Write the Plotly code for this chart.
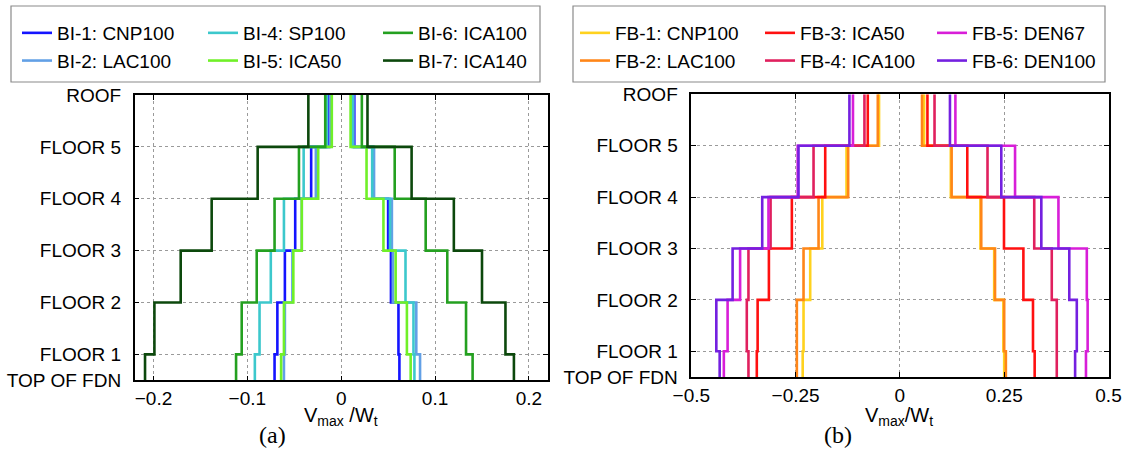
import plotly.graph_objects as go

W, H = 1126, 473

# ---------------- data ----------------
levels = [0, 0.5, 1.5, 2.5, 3.5, 4.5, 5.5]
level_labels = ["TOP OF FDN", "FLOOR 1", "FLOOR 2", "FLOOR 3", "FLOOR 4", "FLOOR 5", "ROOF"]

# story values, bottom (FDN-F1) to top (F5-ROOF)
bi_names = ["BI-1: CNP100", "BI-2: LAC100", "BI-4: SP100", "BI-5: ICA50", "BI-6: ICA100", "BI-7: ICA140"]
bi_colors = ["#1414ff", "#62a0e6", "#3cc8cc", "#70f028", "#24a020", "#0c480c"]
bi_neg = [
    [-0.071, -0.068, -0.060, -0.049, -0.032, -0.013],
    [-0.061, -0.060, -0.052, -0.042, -0.027, -0.012],
    [-0.092, -0.087, -0.075, -0.061, -0.040, -0.0155],
    [-0.064, -0.061, -0.051, -0.042, -0.0245, -0.010],
    [-0.112, -0.106, -0.090, -0.071, -0.045, -0.017],
    [-0.209, -0.199, -0.171, -0.138, -0.089, -0.035],
]
bi_pos = [
    [0.062, 0.061, 0.053, 0.050, 0.034, 0.014],
    [0.084, 0.080, 0.055, 0.054, 0.035, 0.013],
    [0.078, 0.077, 0.0685, 0.052, 0.033, 0.012],
    [0.074, 0.070, 0.058, 0.045, 0.027, 0.010],
    [0.140, 0.133, 0.113, 0.090, 0.057, 0.022],
    [0.184, 0.175, 0.150, 0.120, 0.075, 0.028],
]

fb_names = ["FB-1: CNP100", "FB-2: LAC100", "FB-3: ICA50", "FB-4: ICA100", "FB-5: DEN67", "FB-6: DEN100"]
fb_colors = ["#ffd21e", "#ff8618", "#ff1010", "#e0205e", "#d81ed8", "#7420e0"]
fb_neg = [
    [-0.233, -0.231, -0.215, -0.186, -0.128, -0.050],
    [-0.247, -0.247, -0.231, -0.195, -0.124, -0.053],
    [-0.343, -0.341, -0.314, -0.259, -0.179, -0.077],
    [-0.363, -0.367, -0.363, -0.310, -0.207, -0.085],
    [-0.422, -0.413, -0.383, -0.315, -0.245, -0.1125],
    [-0.432, -0.440, -0.401, -0.330, -0.243, -0.121],
]
fb_pos = [
    [0.250, 0.248, 0.226, 0.193, 0.122, 0.058],
    [0.254, 0.250, 0.228, 0.195, 0.124, 0.053],
    [0.323, 0.319, 0.296, 0.2495, 0.1615, 0.066],
    [0.376, 0.376, 0.364, 0.322, 0.210, 0.083],
    [0.446, 0.450, 0.448, 0.380, 0.276, 0.133],
    [0.420, 0.424, 0.406, 0.339, 0.243, 0.120],
]

a_ticks = [-0.2, -0.1, 0, 0.1, 0.2]
a_ticktext = ["\u22120.2", "\u22120.1", "0", "0.1", "0.2"]
b_ticks = [-0.5, -0.25, 0, 0.25, 0.5]
b_ticktext = ["\u22120.5", "\u22120.25", "0", "0.25", "0.5"]


def step_path(vals):
    xs, ys = [], []
    for i, v in enumerate(vals):
        xs += [v, v]
        ys += [levels[i], levels[i + 1]]
    return xs, ys


def profile(neg, pos):
    x1, y1 = step_path(neg)
    x2, y2 = step_path(pos)
    return x1 + [None] + x2, y1 + [None] + y2


FONT = "Liberation Sans, Arial, Helvetica, sans-serif"
FS = 19
fig = go.Figure()

# legend column assignment (column-major: 2 entries per column)
legend_ids_a = ["legend", "legend", "legend2", "legend2", "legend3", "legend3"]
legend_ids_b = ["legend4", "legend4", "legend5", "legend5", "legend6", "legend6"]

for i in range(6):
    xs, ys = profile(bi_neg[i], bi_pos[i])
    fig.add_trace(go.Scatter(x=xs, y=ys, mode="lines", name=bi_names[i],
                             line=dict(color=bi_colors[i], width=2.6),
                             xaxis="x", yaxis="y", legend=legend_ids_a[i],
                             legendgroup="a%d" % i))
for i in range(6):
    xs, ys = profile(fb_neg[i], fb_pos[i])
    fig.add_trace(go.Scatter(x=xs, y=ys, mode="lines", name=fb_names[i],
                             line=dict(color=fb_colors[i], width=2.6),
                             xaxis="x2", yaxis="y2", legend=legend_ids_b[i],
                             legendgroup="b%d" % i))


def px_x(p):
    return p / W


def px_y(p):
    return 1 - p / H


axis_common = dict(showline=True, linecolor="black", linewidth=1.5, mirror="allticks",
                   ticks="inside", ticklen=5, tickcolor="black", showgrid=True,
                   gridcolor="#9a9a9a", griddash="dot", gridwidth=1, zeroline=False,
                   automargin=False,
                   tickfont=dict(family=FONT, size=FS, color="black"))

fig.update_layout(
    width=W, height=H,
    margin=dict(l=0, r=0, t=0, b=0, autoexpand=False),
    paper_bgcolor="white", plot_bgcolor="white",
    xaxis=dict(domain=[px_x(134.7), px_x(547.7)], range=[-0.22, 0.22],
               tickvals=a_ticks, ticktext=a_ticktext, anchor="y",
               ticklabelstandoff=0, **axis_common),
    yaxis=dict(domain=[px_y(380.3), px_y(95)], range=[0, 5.5], tickvals=levels,
               ticktext=level_labels, anchor="x", ticklabelstandoff=8, **axis_common),
    xaxis2=dict(domain=[px_x(691.3), px_x(1108.5)], range=[-0.5, 0.5],
                tickvals=b_ticks, ticktext=b_ticktext, anchor="y2",
                ticklabelstandoff=0, **axis_common),
    yaxis2=dict(domain=[px_y(377), px_y(94.3)], range=[0, 5.5], tickvals=levels,
                ticktext=level_labels, anchor="x2", ticklabelstandoff=8, **axis_common),
)

legend_x_px = {"legend": 17, "legend2": 203, "legend3": 378,
               "legend4": 575, "legend5": 760, "legend6": 932}
for lid, xp in legend_x_px.items():
    fig.update_layout({lid: dict(x=px_x(xp), xanchor="left", y=px_y(14), yanchor="top",
                                 orientation="v", bgcolor="rgba(0,0,0,0)", borderwidth=0,
                                 traceorder="grouped", tracegroupgap=0,
                                 font=dict(family=FONT, size=FS, color="black"))})

# legend frames
for x0, x1 in [(11, 540), (573, 1105)]:
    fig.add_shape(type="rect", xref="paper", yref="paper",
                  x0=px_x(x0), x1=px_x(x1), y0=px_y(82), y1=px_y(6),
                  line=dict(color="#8a8a8a", width=1.2), fillcolor="rgba(0,0,0,0)")

# axis titles and panel labels
fig.add_annotation(x=px_x(341), y=px_y(416), xref="paper", yref="paper",
                   text="V<sub>max</sub> /W<sub>t</sub>", showarrow=False,
                   font=dict(family=FONT, size=20, color="black"),
                   xanchor="center", yanchor="middle")
fig.add_annotation(x=px_x(899), y=px_y(416), xref="paper", yref="paper",
                   text="V<sub>max</sub>/W<sub>t</sub>", showarrow=False,
                   font=dict(family=FONT, size=20, color="black"),
                   xanchor="center", yanchor="middle")
fig.add_annotation(x=px_x(272), y=px_y(435), xref="paper", yref="paper",
                   text="(a)", showarrow=False,
                   font=dict(family="Liberation Serif, Times New Roman, serif", size=24, color="black"),
                   xanchor="center", yanchor="middle")
fig.add_annotation(x=px_x(838), y=px_y(435), xref="paper", yref="paper",
                   text="(b)", showarrow=False,
                   font=dict(family="Liberation Serif, Times New Roman, serif", size=24, color="black"),
                   xanchor="center", yanchor="middle")

fig.write_html("out.html")
